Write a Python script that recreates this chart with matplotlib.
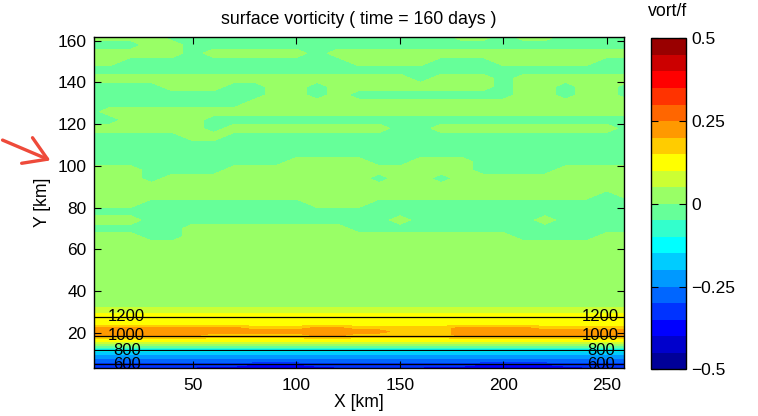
import numpy as np
import matplotlib
matplotlib.use('Agg')
import matplotlib.pyplot as plt
from matplotlib.colors import ListedColormap
from matplotlib.patches import FancyArrowPatch

plt.rcParams['font.family'] = ['Liberation Sans', 'DejaVu Sans']

# --- dati ---
# griglia in x (km)
x_km = np.arange(0, 261, 10)

# righe in y (km) e mappa delle bande di vort/f (un carattere = una banda di 0.05)
band_codes = '0123456789ABCDEFGHIJ'
y_rows = [2.5, 4.3, 6.5, 8.3, 10, 11.7, 13.2, 14.8, 16.3, 19, 20.5, 22, 24, 28, 30.5,
          34, 38, 42, 46, 50, 54, 58, 62, 66, 70, 74, 78, 82, 86, 90, 94, 98, 102,
          106, 110, 114, 118, 122, 126, 130, 134, 138, 142, 146, 150, 154, 158, 162]
vort_rows = [
    "222222111111222221111111222",
    "333333332223333333322223333",
    "444444444444444444444444444",
    "555555555555555555555555555",
    "666666666666666666666666666",
    "777777777777777777777777777",
    "999999999999999999999999999",
    "BBBBBBBBBBBBBBBBBBBBBBBBBBB",
    "CCCCCCCCCCCCCCCCCCCCCCCCCCC",
    "EEEEEEDDDDDEEDDDDDEEEEEEEEE",  # 19
    "EEEEEEEEEEEEEEEDDDEEEEEEEEE",
    "EEEEEEEEDDDEEDDDDDEEEEDDDDD",  # 22
    "CCCCCCCCCCCCCCCCCCCCCCCCCCC",
    "CCCCCCCCCCCCCCCCCCCCCCCCCCC",
    "BBBBBBBBBBBBBBBBBBBBBBBBBBB",
    "AAAAAAAAAAAAAAAAAAAAAAAAAAA",  # 34
    "AAAAAAAAAAAAAAAAAAAAAAAAAAA",
    "AAAAAAAAAAAAAAAAAAAAAAAAAAA",
    "AAAAAAAAAAAAAAAAAAAAAAAAAAA",
    "AAAAAAAAAAAAAAAAAAAAAAAAAAA",  # 50
    "AAAAAAAAAAAAAAAAAAAAAAAAAAA",
    "AAAAAAAAAAAAAAAAAAAAAAAAAAA",
    "AAAAAAAAAAAAAAAAAAAAAAAAAAA",  # 62
    "AAA99AAAAAAAAAAAAAAAA9999AA",
    "99999AAAAAAAA99999999999999",  # 70
    "AAA999999999999A999999A9999",
    "999999999999999999999999999",
    "AAA99999999AAA9999999999999",  # 82
    "AAAAAAAAAAAAAAAAAAAAAAAAA9A",
    "AAAAAAAAAAAAAAAAAAAAAAAAAAA",  # 90
    "AAA9AAAAAAAAAA9AA9AAAAAAAAA",
    "AAA9999AAAAAAAAAAAA9999AAAA",
    "9999999999AAAA99AAA99999999",  # 102
    "999999999999999999999999999",
    "999999999999999999999999999",  # 110
    "99999AA99999999999999999999",
    "AAAAAA9AAAAAAAA99AAAAAAAAA9",
    "99AAAA999999999999999999999",  # 122
    "9AAAAAAAAAAAAAAAAAAAAAAAAAA",
    "99999999AAAAAAAAAAAAAAAAAAA",  # 130
    "999999999AA9A99999999AA9AA9",
    "9999AAA99AA9AAAAAAAA9AA9AA9",
    "AAAAAAAAAAAAAAAA9AAA9AAAAAA",  # 142
    "999999999999999999999999999",
    "AA99999999999AAAA999AAAAA99",  # 150
    "AAAAA9AAAAA9AAAAAAAAAAAAAAA",
    "999AA9999999999999999999999",
    "AAAA99999999999999AA9AA9999",  # 162
]

# profondita' del fondo (m) in funzione di y
depth_y = [0, 4.8, 11.6, 18.5, 27.6, 45, 170]
depth_m = [520, 600, 800, 1000, 1200, 1330, 1380]
depth_levels = [600, 800, 1000, 1200]

cb_ticks = [-0.5, -0.25, 0, 0.25, 0.5]
cb_labels = ['\u22120.5', '\u22120.25', '0', '0.25', '0.5']

# colormap tipo jet(20) di MATLAB
jet20 = [(0, 0, .6), (0, 0, .8), (0, 0, 1), (0, .2, 1), (0, .4, 1), (0, .6, 1), (0, .8, 1),
         (0, 1, 1), (.2, 1, .8), (.4, 1, .6), (.6, 1, .4), (.8, 1, .2), (1, 1, 0), (1, .8, 0),
         (1, .6, 0), (1, .4, 0), (1, .2, 0), (1, 0, 0), (.8, 0, 0), (.6, 0, 0)]
cmap = ListedColormap(jet20)
levels = np.linspace(-0.5, 0.5, 21)
centres = levels[:-1] + 0.025

Z = np.array([[centres[band_codes.index(c)] for c in row] for row in vort_rows])
D = np.tile(np.array(depth_m, dtype=float), (len(x_km), 1)).T

fig = plt.figure(figsize=(7.58, 4.16), dpi=100)
ax = fig.add_axes([93.5 / 758, 1 - 368 / 416, 530 / 758, 331 / 416])

cf = ax.contourf(x_km, y_rows, Z, levels=levels, cmap=cmap)
cs = ax.contour(x_km, depth_y, D, levels=depth_levels, colors='k', linewidths=0.9)
ylab = np.interp(depth_levels, depth_m, depth_y)
manual = [(18, v) for v in ylab] + [(247, v) for v in ylab]
lbl = ax.clabel(cs, manual=manual, inline=False, fontsize=12, fmt='%d', colors='k')
for t in lbl:
    t.set_clip_on(True)

ax.set_xlim(2, 258)
ax.set_ylim(3, 161.8)
ax.set_xticks([50, 100, 150, 200, 250])
ax.set_yticks(range(20, 161, 20))
ax.tick_params(direction='in', top=True, right=True, length=5, width=0.8, labelsize=12.5)
ax.tick_params(axis='x', pad=7)
ax.tick_params(axis='y', pad=5)
for s in ax.spines.values():
    s.set_linewidth(1.0)

ax.set_title('surface vorticity ( time = 160 days )', fontsize=12.8, pad=9)
ax.set_xlabel('X [km]', fontsize=12.7, labelpad=1)
ax.set_ylabel('Y [km]', fontsize=12.7, labelpad=5)

cax = fig.add_axes([650.5 / 758, 1 - 369.3 / 416, 35.5 / 758, 331 / 416])
cb = fig.colorbar(cf, cax=cax, ticks=cb_ticks)
cb.ax.set_yticklabels(cb_labels)
cax.tick_params(direction='in', left=True, right=True, length=5, width=0.8, labelsize=12.5, pad=4)
cb.outline.set_linewidth(1.0)
fig.text(668 / 758, 1 - 12 / 416, 'vort/f', ha='center', va='center', fontsize=12.7)

# freccia rossa
fig.add_artist(FancyArrowPatch(
    (0 / 758, 1 - 139 / 416), (53 / 758, 1 - 161.5 / 416), transform=fig.transFigure,
    arrowstyle='->,head_length=0.8,head_width=0.5', mutation_scale=20,
    color='#ee4a3a', lw=2.4))

fig.savefig('out.png', dpi=100)
